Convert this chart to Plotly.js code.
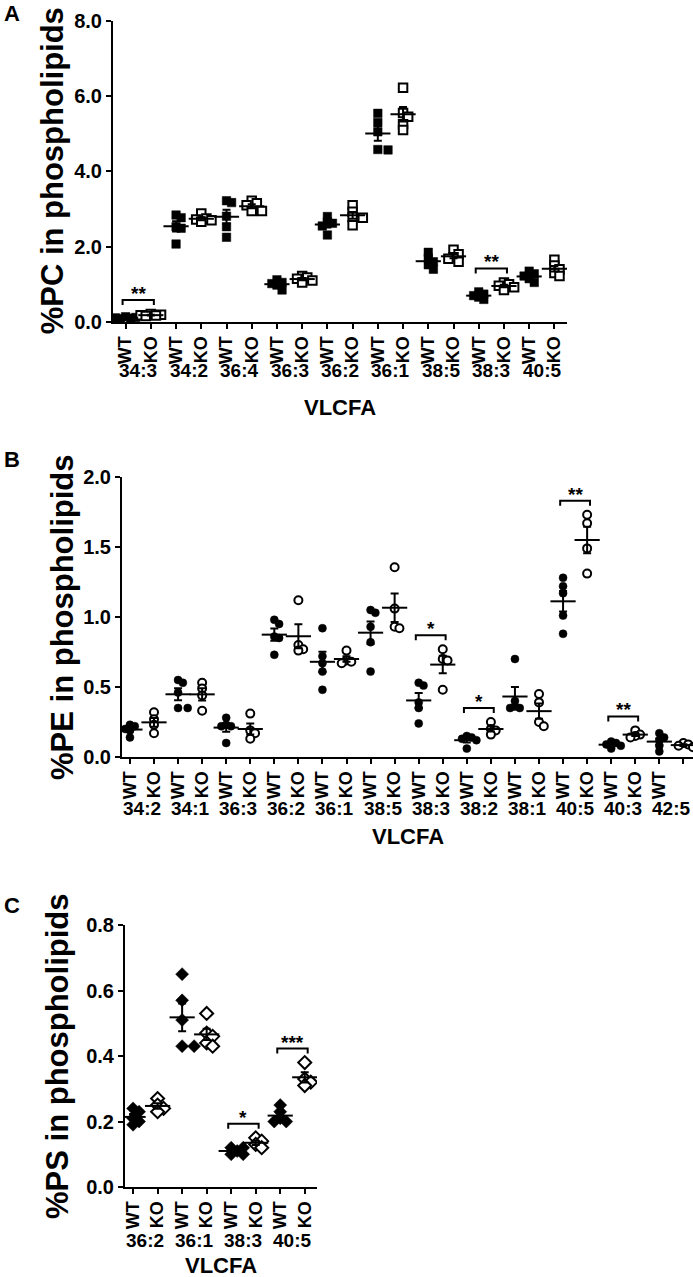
<!DOCTYPE html>
<html>
<head>
<meta charset="utf-8">
<script src="https://cdn.plot.ly/plotly-3.0.1.min.js"></script>
<style>
html,body{margin:0;padding:0;background:#fff;}
#chart{width:693px;height:1277px;}
#chart text{font-weight:700 !important;}
</style>
</head>
<body>
<div id="chart"></div>
<script>
// ---------------- DATA ----------------
const genotypes = ["WT", "KO"];
const axisLabel = "VLCFA";

// Panel A: %PC in phospholipids
const pcCategories = ["34:3","34:2","36:4","36:3","36:2","36:1","38:5","38:3","40:5"];
const pcWT = [
  [0.14, 0.12, 0.11, 0.10, 0.09],
  [2.84, 2.77, 2.53, 2.49, 2.07],
  [3.22, 3.17, 2.81, 2.53, 2.25],
  [1.12, 1.05, 1.02, 0.98, 0.85],
  [2.80, 2.66, 2.62, 2.55, 2.31],
  [5.54, 5.30, 5.05, 4.58, 4.57],
  [1.85, 1.70, 1.60, 1.52, 1.40],
  [0.80, 0.74, 0.70, 0.66, 0.60],
  [1.35, 1.28, 1.22, 1.15, 1.05]
];
const pcKO = [
  [0.21, 0.19, 0.18, 0.17, 0.16],
  [2.88, 2.75, 2.72, 2.70, 2.66],
  [3.22, 3.15, 3.10, 2.95, 2.95],
  [1.22, 1.18, 1.15, 1.10, 1.05],
  [3.10, 2.93, 2.79, 2.77, 2.57],
  [6.22, 5.55, 5.45, 5.25, 5.10],
  [1.92, 1.80, 1.72, 1.68, 1.60],
  [1.05, 1.00, 0.96, 0.92, 0.85],
  [1.65, 1.50, 1.40, 1.30, 1.22]
];
const pcSigCats = ["34:3", "38:3"];
const pcSigLabels = ["**", "**"];

// Panel B: %PE in phospholipids
const peCategories = ["34:2","34:1","36:3","36:2","36:1","38:5","38:3","38:2","38:1","40:5","40:3","42:5"];
const peWT = [
  [0.23, 0.22, 0.20, 0.19, 0.14],
  [0.55, 0.53, 0.46, 0.35, 0.35],
  [0.28, 0.23, 0.22, 0.22, 0.10],
  [0.98, 0.95, 0.86, 0.85, 0.73],
  [0.92, 0.72, 0.67, 0.61, 0.48],
  [1.05, 1.03, 0.93, 0.82, 0.61],
  [0.53, 0.51, 0.39, 0.35, 0.24],
  [0.15, 0.14, 0.13, 0.12, 0.06],
  [0.70, 0.40, 0.36, 0.35, 0.35],
  [1.28, 1.22, 1.17, 1.01, 0.88],
  [0.11, 0.10, 0.09, 0.08, 0.06],
  [0.17, 0.14, 0.12, 0.08, 0.04]
];
const peKO = [
  [0.32, 0.27, 0.23, 0.17],
  [0.53, 0.49, 0.44, 0.33],
  [0.31, 0.19, 0.17, 0.13],
  [1.12, 0.80, 0.77, 0.76],
  [0.76, 0.69, 0.68, 0.67],
  [1.355, 1.06, 0.93, 0.92],
  [0.77, 0.70, 0.69, 0.48],
  [0.25, 0.20, 0.19, 0.16],
  [0.45, 0.39, 0.25, 0.22],
  [1.73, 1.67, 1.49, 1.31],
  [0.19, 0.16, 0.15, 0.14],
  [0.10, 0.09, 0.08, 0.07]
];
const peSigCats = ["38:3", "38:2", "40:5", "40:3"];
const peSigLabels = ["*", "*", "**", "**"];

// Panel C: %PS in phospholipids
const psCategories = ["36:2","36:1","38:3","40:5"];
const psWT = [
  [0.24, 0.23, 0.21, 0.20, 0.19],
  [0.65, 0.57, 0.51, 0.43, 0.43],
  [0.12, 0.12, 0.11, 0.10, 0.10],
  [0.25, 0.23, 0.21, 0.20, 0.20]
];
const psKO = [
  [0.27, 0.25, 0.24, 0.23],
  [0.53, 0.47, 0.46, 0.44, 0.43],
  [0.15, 0.14, 0.13, 0.12],
  [0.38, 0.33, 0.32, 0.31]
];
const psSigCats = ["38:3", "40:5"];
const psSigLabels = ["*", "***"];

// ---------------- LAYOUT / STYLE ----------------
const W = 693, H = 1277;
const FONT = "Liberation Sans, Arial, Helvetica, sans-serif";

const panels = [
  {letter:"A", title:"%PC in phospholipids", cats:pcCategories, wt:pcWT, ko:pcKO,
   sigCats:pcSigCats, sigLabels:pcSigLabels, symbol:"square", size:8.5,
   left:113, right:567, top:20.7, bottom:322, xr:[-0.5,17.5], yr:[0,8], dtick:2,
   titleX:52, letterY:14, groupY:370, vlcfaY:408},
  {letter:"B", title:"%PE in phospholipids", cats:peCategories, wt:peWT, ko:peKO,
   sigCats:peSigCats, sigLabels:peSigLabels, symbol:"circle", size:8,
   left:122, right:693, top:477, bottom:757, xr:[-0.33,23.4], yr:[0,2], dtick:0.5,
   titleX:62, letterY:460, groupY:808, vlcfaY:837},
  {letter:"C", title:"%PS in phospholipids", cats:psCategories, wt:psWT, ko:psKO,
   sigCats:psSigCats, sigLabels:psSigLabels, symbol:"diamond", size:10,
   left:125, right:317, top:925, bottom:1187, xr:[-0.33,7.5], yr:[0,0.8], dtick:0.2,
   titleX:57, letterY:905, groupY:1240, vlcfaY:1265}
];

function mean(a){return a.reduce((s,v)=>s+v,0)/a.length;}
function sem(a){const m=mean(a);const v=a.reduce((s,x)=>s+(x-m)*(x-m),0)/(a.length-1);return Math.sqrt(v)/Math.sqrt(a.length);}

// compact deterministic beeswarm in pixel space (points may overlap a little)
function swarm(values, center, pxX, pxY, size){
  const order = values.map((v,i)=>i).sort((a,b)=>values[b]-values[a]);
  const placed = [];
  const xs = new Array(values.length);
  const minD = size*0.62, step = size*0.6;
  order.forEach(idx=>{
    const py = values[idx]*pxY;
    let best = 0, bestScore = -1;
    for(let k=0;k<5;k++){
      const off = (k===0)?0:((k%2===1)?1:-1)*Math.ceil(k/2)*step;
      const d = placed.length ? Math.min(...placed.map(p=>Math.hypot(p[0]-off,p[1]-py))) : 1e9;
      if(d>=minD){best=off;bestScore=1e9;break;}
      if(d>bestScore){bestScore=d;best=off;}
    }
    placed.push([best,py]);
    xs[idx]=center+best/pxX;
  });
  return xs;
}

const traces = [];
const annotations = [];
const shapes = [];
const layout = {
  width:W, height:H, margin:{l:0,r:0,t:0,b:0},
  paper_bgcolor:"#fff", plot_bgcolor:"#fff", showlegend:false,
  font:{family:FONT, color:"#000", size:16}
};

panels.forEach((p, pi)=>{
  const sfx = pi===0 ? "" : String(pi+1);
  const xa = "x"+sfx, ya = "y"+sfx;
  const pxX = (p.right-p.left)/(p.xr[1]-p.xr[0]);
  const pxY = (p.bottom-p.top)/(p.yr[1]-p.yr[0]);

  const tickvals=[], ticktext=[];
  p.cats.forEach((c,i)=>{ genotypes.forEach((g,j)=>{tickvals.push(2*i+j);ticktext.push(g);}); });

  layout["xaxis"+sfx] = {
    domain:[p.left/W, p.right/W], range:p.xr, anchor:ya,
    showline:true, linecolor:"#000", linewidth:2, mirror:false,
    ticks:"outside", ticklen:5, tickwidth:2, tickcolor:"#000",
    tickvals:tickvals, ticktext:ticktext, tickangle:-90,
    tickfont:{family:FONT, size:18, weight:"bold", color:"#000"},
    showgrid:false, zeroline:false, fixedrange:true
  };
  layout["yaxis"+sfx] = {
    domain:[1-p.bottom/H, 1-p.top/H], range:p.yr, anchor:xa,
    showline:true, linecolor:"#000", linewidth:2,
    ticks:"outside", ticklen:5, tickwidth:2, tickcolor:"#000",
    tick0:0, dtick:p.dtick, tickformat:".1f",
    tickfont:{family:FONT, size:20, weight:"bold", color:"#000"},
    showgrid:false, zeroline:false, fixedrange:true
  };

  // points
  [p.wt, p.ko].forEach((groups, gj)=>{
    const xs=[], ys=[];
    groups.forEach((vals,i)=>{
      const sx = swarm(vals, 2*i+gj, pxX, pxY, p.size);
      vals.forEach((v,k)=>{xs.push(sx[k]); ys.push(v);});
    });
    traces.push({
      type:"scatter", mode:"markers", x:xs, y:ys, xaxis:xa, yaxis:ya,
      marker:{symbol:p.symbol, size:p.size, color: gj===0?"#000":"#fff",
              line:{color:"#000", width: gj===0?0.5:2}},
      hoverinfo:"skip"
    });
  });

  // mean +/- SEM
  const mx=[], my=[], me=[];
  [p.wt, p.ko].forEach((groups,gj)=>{
    groups.forEach((vals,i)=>{mx.push(2*i+gj); my.push(mean(vals)); me.push(sem(vals));});
  });
  traces.push({
    type:"scatter", mode:"markers", x:mx, y:my, xaxis:xa, yaxis:ya,
    marker:{symbol:"line-ew", size:18, color:"#000", line:{color:"#000", width:2}},
    error_y:{type:"data", array:me, visible:true, color:"#000", thickness:2, width:4},
    hoverinfo:"skip"
  });

  // significance brackets
  p.sigCats.forEach((c,si)=>{
    const i = p.cats.indexOf(c);
    const all = p.wt[i].concat(p.ko[i]);
    const top = Math.max(...all) + 14/pxY;
    const drop = 5/pxY;
    const x0 = 2*i - 0.12, x1 = 2*i + 1 + 0.12;
    shapes.push({type:"path", xref:xa, yref:ya,
      path:`M ${x0} ${top-drop} L ${x0} ${top} L ${x1} ${top} L ${x1} ${top-drop}`,
      line:{color:"#000", width:2}});
    annotations.push({xref:xa, yref:ya, x:2*i+0.5, y:top, text:p.sigLabels[si],
      showarrow:false, xanchor:"center", yanchor:"bottom", yshift:-6,
      font:{family:FONT, size:19, weight:"bold", color:"#000"}});
  });

  // group labels
  p.cats.forEach((c,i)=>{
    annotations.push({xref:xa, yref:"paper", x:2*i+0.5, y:1-p.groupY/H, text:c,
      showarrow:false, xanchor:"center", yanchor:"middle",
      font:{family:FONT, size:19, weight:"bold", color:"#000"}});
  });
  // x-axis title
  annotations.push({xref:"paper", yref:"paper", x:((p.left+p.right)/2)/W, y:1-p.vlcfaY/H,
    text:axisLabel, showarrow:false, xanchor:"center", yanchor:"middle",
    font:{family:FONT, size:22, weight:"bold", color:"#000"}});
  // y-axis title
  annotations.push({xref:"paper", yref:"paper", x:p.titleX/W, y:1-((p.top+p.bottom)/2)/H,
    text:p.title, textangle:-90, showarrow:false, xanchor:"center", yanchor:"middle",
    font:{family:FONT, size:31, weight:"bold", color:"#000"}});
  // panel letter
  annotations.push({xref:"paper", yref:"paper", x:12/W, y:1-p.letterY/H,
    text:p.letter, showarrow:false, xanchor:"center", yanchor:"middle",
    font:{family:FONT, size:22, weight:"bold", color:"#000"}});
});

layout.annotations = annotations;
layout.shapes = shapes;

Plotly.newPlot("chart", traces, layout, {staticPlot:true, displayModeBar:false});
</script>
</body>
</html>
